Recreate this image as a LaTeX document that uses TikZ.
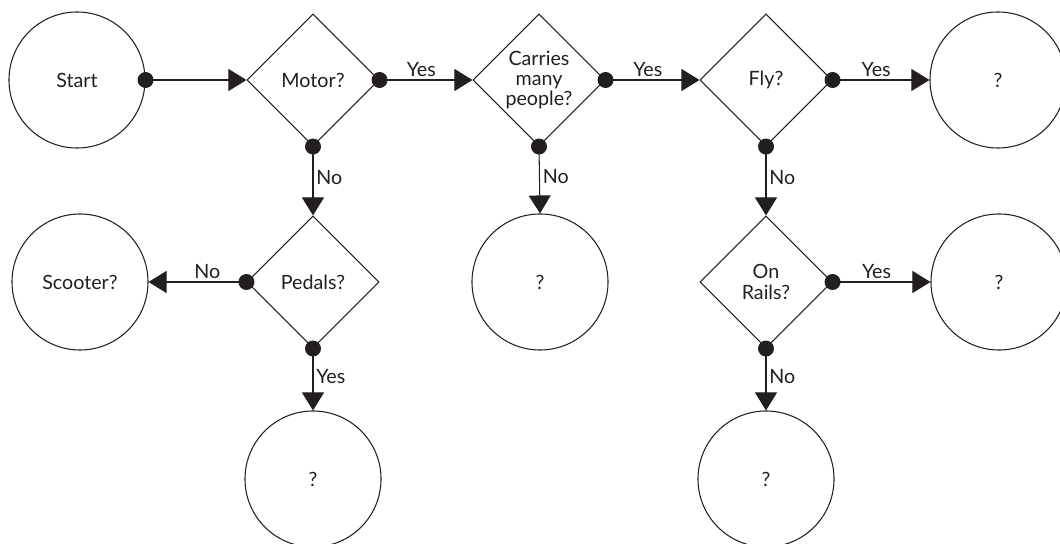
\documentclass[tikz,border=0pt]{standalone}
\usepackage{fontspec}
\setmainfont{Lato}
\usetikzlibrary{shapes.geometric,arrows.meta}

\definecolor{tinta}{HTML}{231F20}
\tikzset{
  txt/.style={font=\fontsize{14}{14.5}\selectfont, text=tinta},
  decision/.style={txt, draw, diamond, aspect=1, inner sep=0pt,
    minimum width=3.3cm, minimum height=3.3cm, align=center},
  ending/.style={txt, draw, circle, inner sep=0pt, minimum size=3.4cm},
  flow/.style={-{Triangle[length=0.45cm,width=0.55cm]}},
  lbl/.style={txt, inner sep=2pt}
}

\begin{document}
\begin{tikzpicture}[x=0.025cm, y=-0.025cm, line width=0.75pt, draw=tinta]
\useasboundingbox (0,0) rectangle (1060,544);
% fila de arriba
\node[ending] (start) at (77,80) {Start};
\node[decision] (motor) at (313,80) {Motor?};
\node[decision] (carries) at (539,80) {Carries\\many\\people?};
\node[decision] (fly) at (766,80) {Fly?};
\node[ending] (flyq) at (998,80) {?};
% fila del medio
\node[ending] (scooter) at (80,282) {Scooter?};
\node[decision] (pedals) at (313,282) {Pedals?};
\node[ending] (carriesq) at (540,282) {?};
\node[decision] (rails) at (766,282) {On\\Rails?};
\node[ending] (railsq) at (999,282) {?};
% fila de abajo
\node[ending] (pedalsq) at (313,479) {?};
\node[ending] (railsno) at (766,479) {?};
% conectores
\draw[flow] (start.east) -- (motor.west);
\draw[flow] (motor.east) -- node[lbl, above, pos=0.45]{Yes} (carries.west);
\draw[flow] (carries.east) -- node[lbl, above, pos=0.45]{Yes} (fly.west);
\draw[flow] (fly.east) -- node[lbl, above, pos=0.45]{Yes} (flyq.west);
\draw[flow] (motor.south) -- node[lbl, right, pos=0.45]{No} (pedals.north);
\draw[flow] (carries.south) -- node[lbl, right, pos=0.45]{No} (carriesq.north);
\draw[flow] (fly.south) -- node[lbl, right, pos=0.45]{No} (rails.north);
\draw[flow] (pedals.west) -- node[lbl, above, pos=0.4]{No} (scooter.east);
\draw[flow] (pedals.south) -- node[lbl, right, pos=0.45]{Yes} (pedalsq.north);
\draw[flow] (rails.east) -- node[lbl, above, pos=0.45]{Yes} (railsq.west);
\draw[flow] (rails.south) -- node[lbl, right, pos=0.45]{No} (railsno.north);
% puntos de salida
\foreach \p in {start.east, motor.east, motor.south, carries.east, carries.south,
  fly.east, fly.south, pedals.west, pedals.south, rails.east, rails.south}
  \fill[tinta] (\p) circle[radius=8];
\end{tikzpicture}
\end{document}
